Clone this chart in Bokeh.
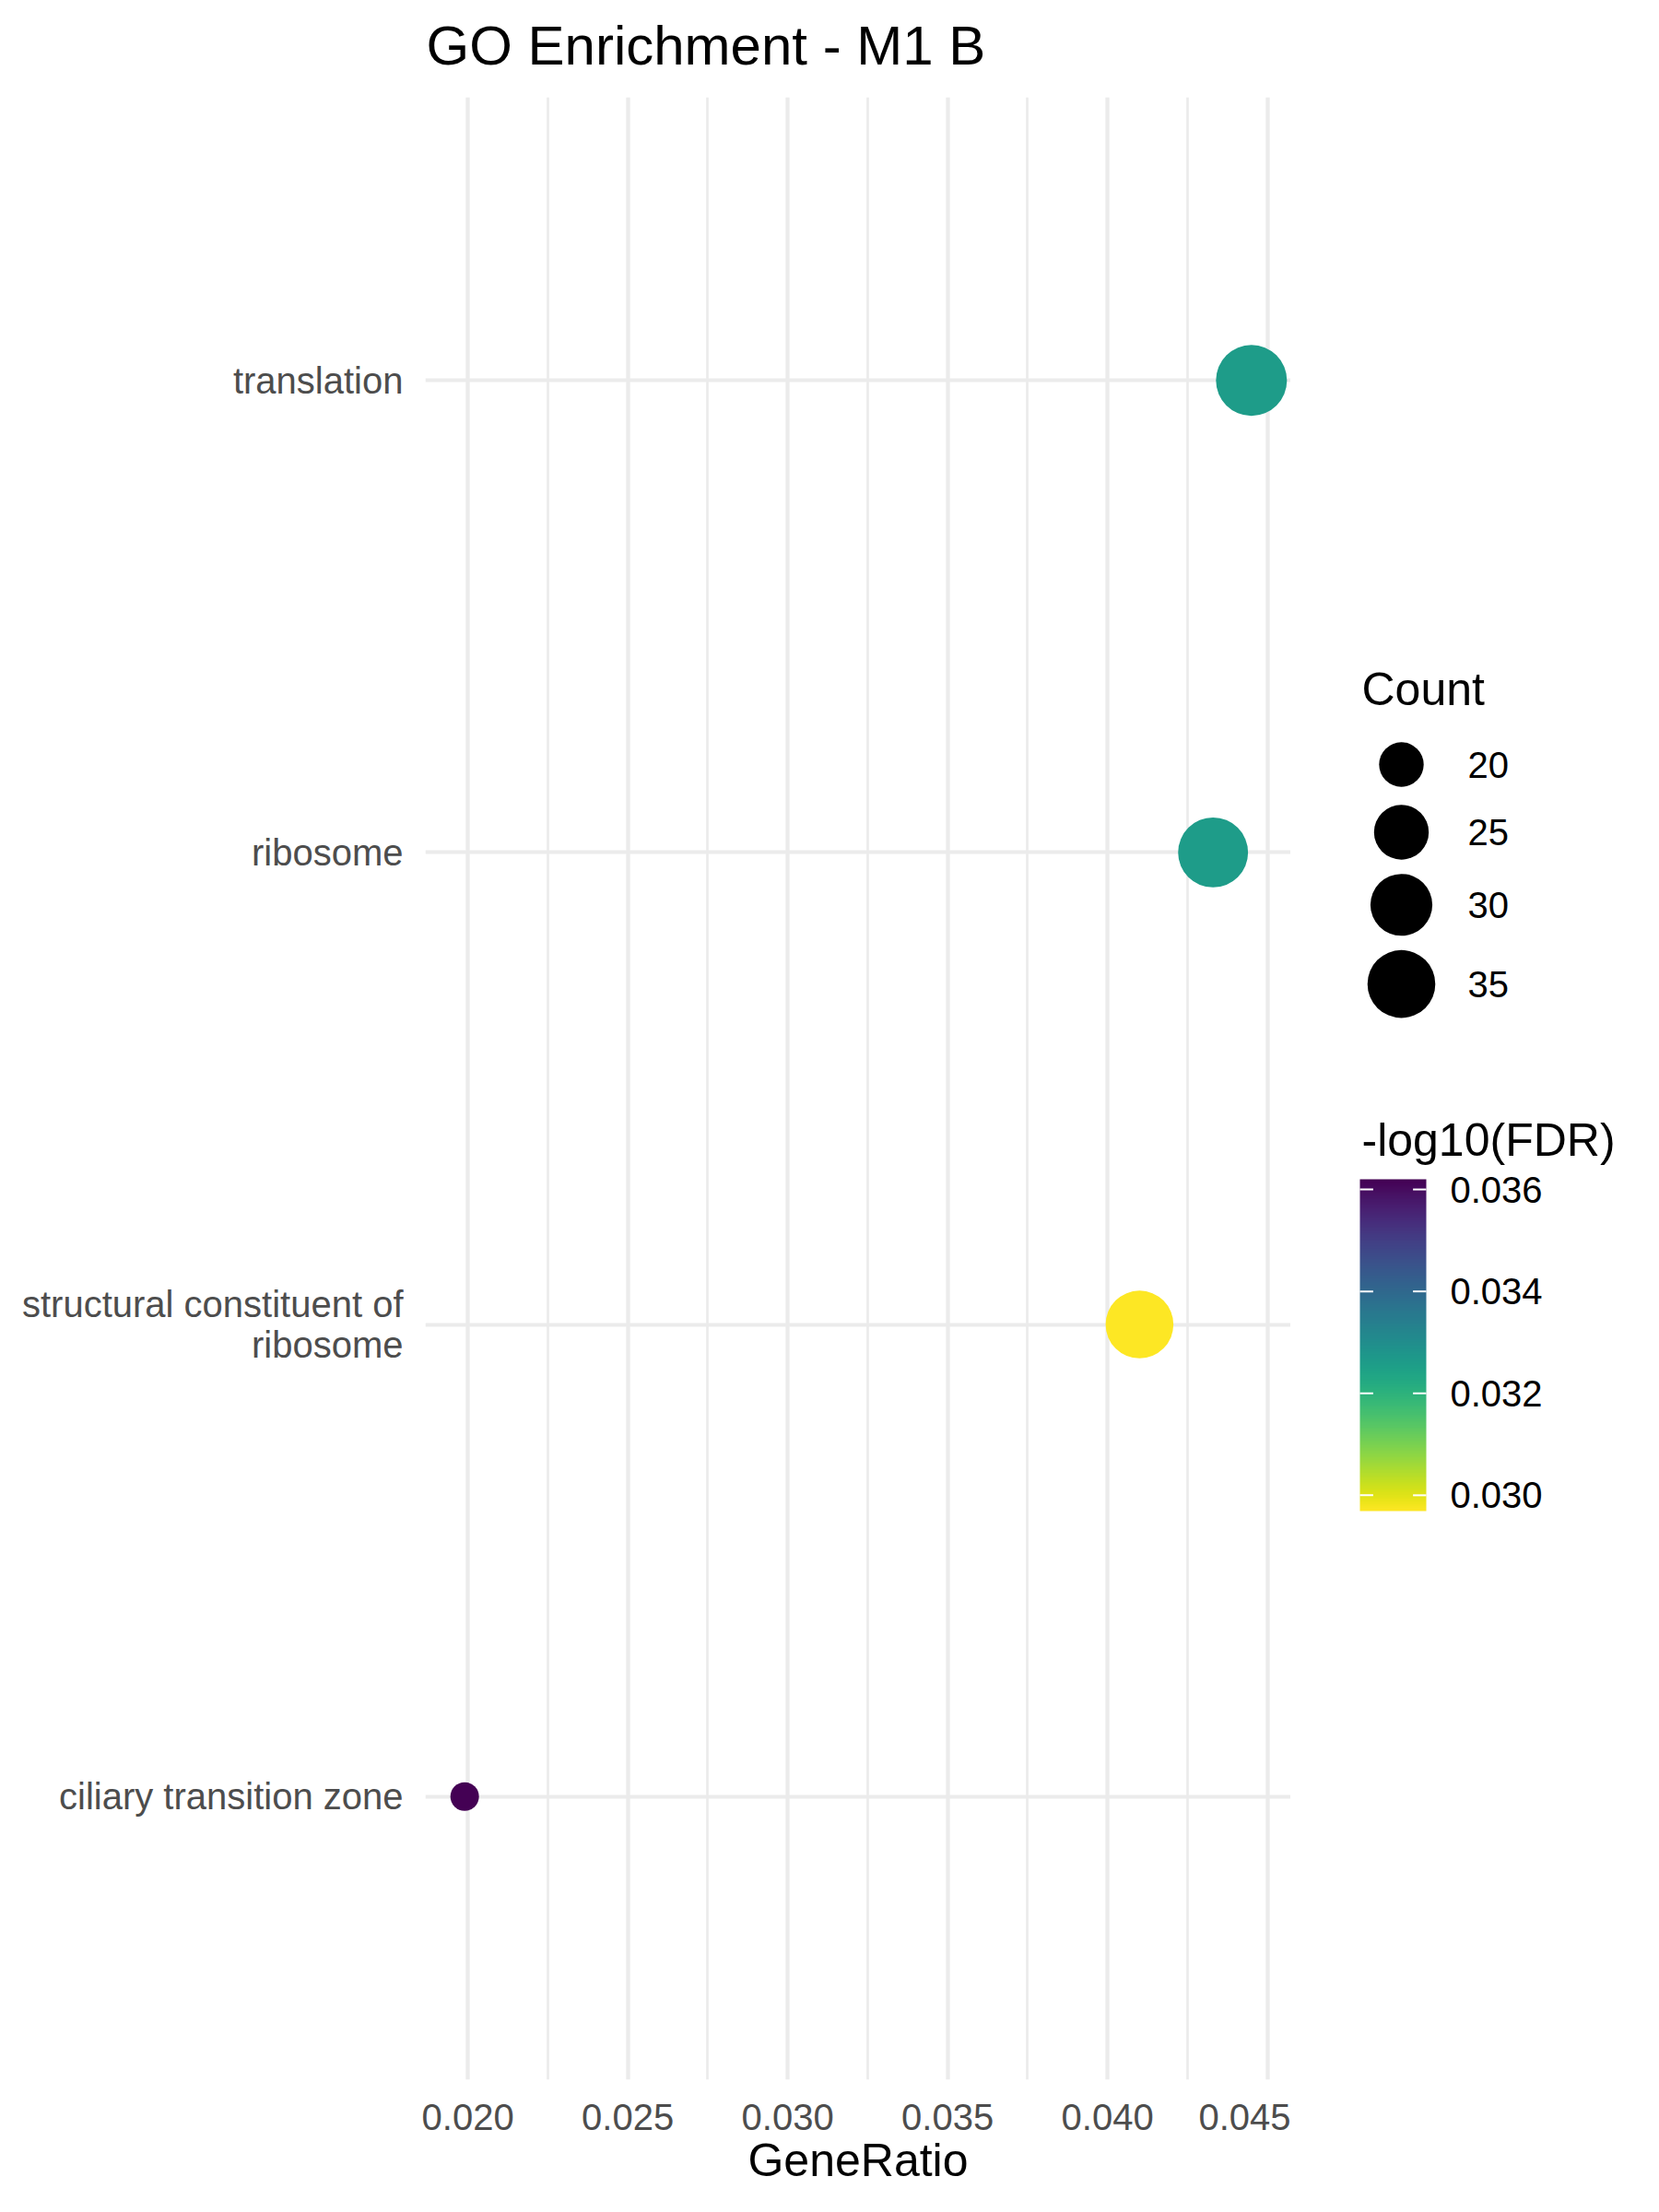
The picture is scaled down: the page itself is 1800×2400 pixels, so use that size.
import numpy as np
from bokeh.plotting import figure
from bokeh.models import (ColumnDataSource, FactorRange, Range1d, FixedTicker,
                          PrintfTickFormatter, LinearColorMapper)
from bokeh.palettes import Viridis256
from bokeh.layouts import row, column
from bokeh.embed import file_html
from bokeh.resources import INLINE
from bokeh.core.properties import value

# ---------------- data ----------------
terms = ["translation", "ribosome", "structural constituent of\nribosome",
         "ciliary transition zone"]
gene_ratio = [0.0445, 0.0433, 0.0410, 0.0199]
counts = [38, 37, 35, 17]
neg_log10_fdr = [0.0326, 0.0326, 0.02969, 0.0362]

x_ticks = [0.020, 0.025, 0.030, 0.035, 0.040, 0.045]
x_minor_ticks = [0.0225, 0.0275, 0.0325, 0.0375, 0.0425]
count_breaks = [20, 25, 30, 35]
fdr_breaks = [0.030, 0.032, 0.034, 0.036]

title_text = "GO Enrichment - M1 B"

# ---------------- styles ----------------
FONT = "Liberation Sans"
GRID = "#EBEBEB"
D_MIN, D_MAX = 31.0, 77.0
cmin, cmax = min(counts), max(counts)

FR_TOP, FR_H, BORDER_BOTTOM = 105, 2151, 144
FR_LEFT, FR_W = 461, 939
LEG_W = 1800 - FR_LEFT - FR_W
TITLE_MID = 49  # vertical centre of title caps (page px)

TXT = dict(text_font=value(FONT), text_align="left", text_color="black")


def diam(c):
    return D_MIN + (D_MAX - D_MIN) * np.sqrt((c - cmin) / (cmax - cmin))


def blank(fig):
    fig.grid.visible = False
    fig.outline_line_color = None
    fig.background_fill_color = "white"
    fig.border_fill_color = "white"


low, high = min(neg_log10_fdr), max(neg_log10_fdr)
mapper = LinearColorMapper(palette=list(reversed(Viridis256)), low=low, high=high)

span = max(gene_ratio) - min(gene_ratio)
xs, xe = min(gene_ratio) - 0.05 * span, max(gene_ratio) + 0.05 * span

# ---------------- title strip ----------------
t = figure(x_range=Range1d(FR_LEFT, 1800), y_range=Range1d(-FR_TOP, 0),
           frame_width=1800 - FR_LEFT, frame_height=FR_TOP,
           min_border_left=FR_LEFT, min_border_right=0,
           min_border_top=0, min_border_bottom=0,
           x_axis_location=None, y_axis_location=None, title=None,
           output_backend="svg", toolbar_location=None)
blank(t)
t.text(x=[FR_LEFT + 1], y=[-TITLE_MID], text=[title_text],
       text_font_size="60px", text_baseline="middle", **TXT)

# ---------------- main plot ----------------
p = figure(x_range=Range1d(xs, xe),
           y_range=FactorRange(factors=terms[::-1], range_padding=0.1,
                               range_padding_units="absolute"),
           frame_width=FR_W, frame_height=FR_H,
           min_border_left=FR_LEFT, min_border_right=0,
           min_border_top=0, min_border_bottom=BORDER_BOTTOM,
           output_backend="svg", toolbar_location=None, title=None)
p.outline_line_color = None
p.background_fill_color = "white"
p.border_fill_color = "white"

src = ColumnDataSource(dict(term=terms, ratio=gene_ratio, count=counts,
                            fdr=neg_log10_fdr,
                            size=[diam(c) for c in counts]))
p.scatter("ratio", "term", size="size", source=src,
          fill_color={"field": "fdr", "transform": mapper}, line_color=None)

p.xaxis.ticker = FixedTicker(ticks=x_ticks, minor_ticks=x_minor_ticks)
p.xaxis.formatter = PrintfTickFormatter(format="%.3f")
p.xgrid.grid_line_color = GRID
p.xgrid.grid_line_width = 4.3
p.xgrid.minor_grid_line_color = GRID
p.xgrid.minor_grid_line_width = 2.7
p.ygrid.grid_line_color = GRID
p.ygrid.grid_line_width = 4.0

for ax in (p.xaxis[0], p.yaxis[0]):
    ax.axis_line_color = None
    ax.major_tick_line_color = None
    ax.minor_tick_line_color = None
    ax.major_tick_out = 0
    ax.major_tick_in = 0
    ax.minor_tick_out = 0
    ax.minor_tick_in = 0
    ax.major_label_text_font = FONT
    ax.major_label_text_font_size = "40px"
    ax.major_label_text_color = "#4D4D4D"

p.yaxis.major_label_standoff = 24
p.yaxis.major_label_text_line_height = 1.0
p.xaxis.major_label_standoff = 26
p.xaxis.axis_label = "GeneRatio"
p.xaxis.axis_label_text_font = FONT
p.xaxis.axis_label_text_font_size = "50px"
p.xaxis.axis_label_text_font_style = "normal"
p.xaxis.axis_label_text_color = "black"
p.xaxis.axis_label_standoff = 2

# ---------------- legend panel (reference pixel coordinates) ----------------
q = figure(x_range=Range1d(FR_LEFT + FR_W, 1800),
           y_range=Range1d(-(FR_TOP + FR_H), -FR_TOP),
           frame_width=LEG_W, frame_height=FR_H,
           min_border_left=0, min_border_right=0,
           min_border_top=0, min_border_bottom=BORDER_BOTTOM,
           x_axis_location=None, y_axis_location=None, title=None,
           output_backend="svg", toolbar_location=None)
blank(q)

# Count legend
q.text(x=[1477], y=[-747], text=["Count"], text_font_size="50px",
       text_baseline="alphabetic", **TXT)
leg_d = [diam(c) for c in count_breaks]
keys = [max(72.0, d + 15.5) for d in leg_d]
centers = []
top = 829 - keys[0] / 2
for k in keys:
    centers.append(top + k / 2)
    top += k
leg_src = ColumnDataSource(dict(x=[1520] * len(count_breaks),
                                y=[-c for c in centers], size=leg_d,
                                lx=[1592] * len(count_breaks),
                                label=[str(b) for b in count_breaks]))
q.scatter("x", "y", size="size", source=leg_src, fill_color="black",
          line_color=None)
q.text("lx", "y", text="label", source=leg_src, text_font_size="40px",
       text_baseline="middle", **TXT)

# Colour bar legend
BAR_TOP, BAR_BOT, BAR_L, BAR_W = 1279, 1639, 1475, 72
bar_h = BAR_BOT - BAR_TOP
f_start = low + (BAR_BOT - (FR_TOP + FR_H)) / bar_h * (high - low)
f_end = low + (BAR_BOT - FR_TOP) / bar_h * (high - low)
q.extra_y_ranges = {"fdr": Range1d(f_start, f_end)}

q.text(x=[1477], y=[-1236], text=["-log10(FDR)"], text_font_size="50px",
       text_baseline="alphabetic", **TXT)
grad = np.linspace(low, high, 256).reshape(256, 1)
q.image(image=[grad], x=BAR_L, y=low, dw=BAR_W, dh=high - low,
        color_mapper=mapper, y_range_name="fdr")
q.segment(x0=[BAR_L] * 4, x1=[BAR_L + 14.4] * 4, y0=fdr_breaks, y1=fdr_breaks,
          y_range_name="fdr", line_color="white", line_width=2)
q.segment(x0=[BAR_L + BAR_W - 14.4] * 4, x1=[BAR_L + BAR_W] * 4, y0=fdr_breaks,
          y1=fdr_breaks, y_range_name="fdr", line_color="white", line_width=2)
q.text(x=[1573] * 4, y=fdr_breaks, text=["%.3f" % b for b in fdr_breaks],
       y_range_name="fdr", text_font_size="40px", text_baseline="middle",
       **TXT)

layout = column(t, row(p, q))
open("out.html", "w").write(file_html(layout, INLINE))
